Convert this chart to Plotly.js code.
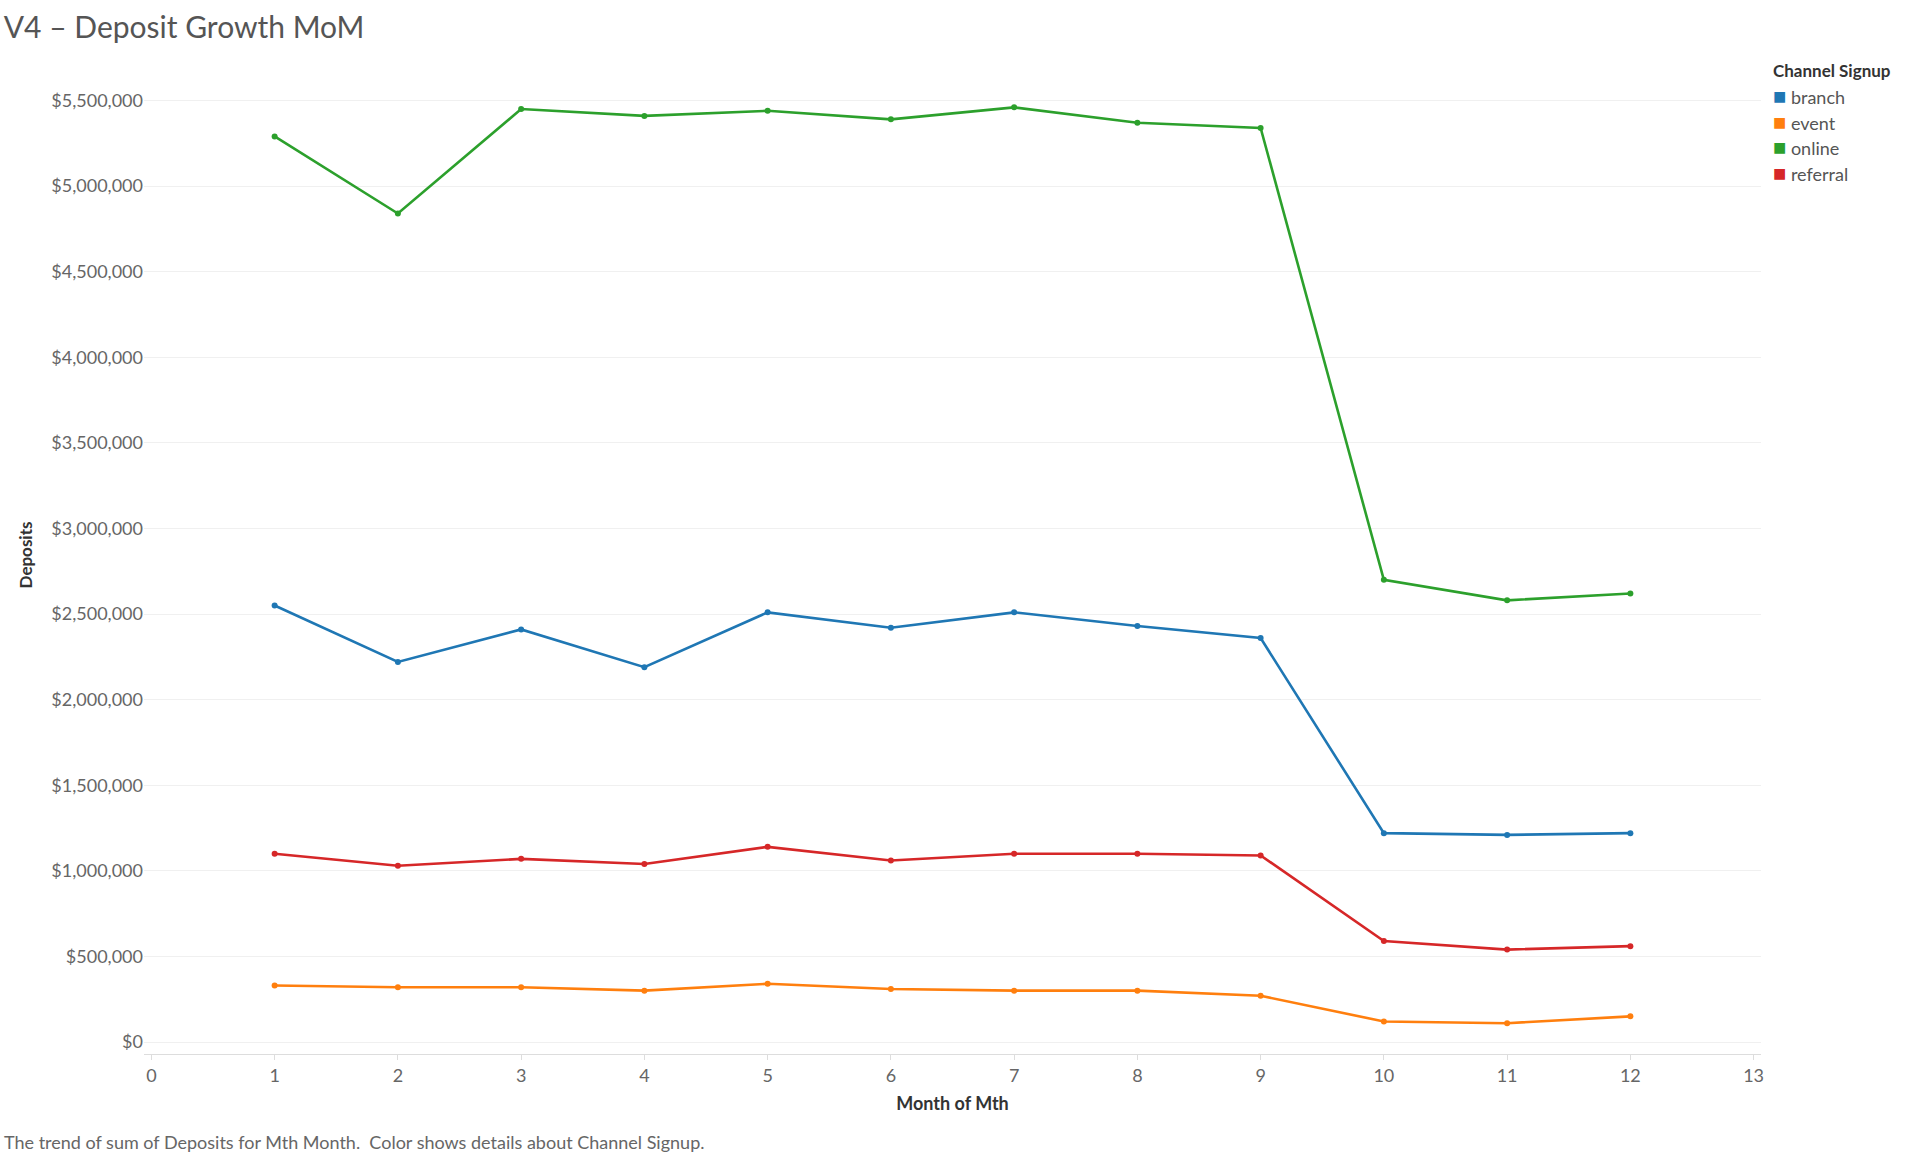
<!DOCTYPE html>
<html>
<head>
<meta charset="utf-8">
<script src="https://cdn.plot.ly/plotly-3.0.1.min.js"></script>
<style>html,body{margin:0;padding:0;background:#fff;}#chart{width:1911px;height:1158px;}</style>
</head>
<body>
<div id="chart"></div>
<script>
const months = [1, 2, 3, 4, 5, 6, 7, 8, 9, 10, 11, 12];
const channels = ['branch', 'event', 'online', 'referral'];
const colors = ['#1f77b4', '#ff7f0e', '#2ca02c', '#d62728'];
const branch = [2550000, 2220000, 2410000, 2190000, 2510000, 2420000, 2510000, 2430000, 2360000, 1220000, 1210000, 1220000];
const eventS = [330000, 320000, 320000, 300000, 340000, 310000, 300000, 300000, 270000, 120000, 110000, 150000];
const online = [5290000, 4840000, 5450000, 5410000, 5440000, 5390000, 5460000, 5370000, 5340000, 2700000, 2580000, 2620000];
const referral = [1100000, 1030000, 1070000, 1040000, 1140000, 1060000, 1100000, 1100000, 1090000, 590000, 540000, 560000];
const series = [branch, eventS, online, referral];
const yTicks = [0, 500000, 1000000, 1500000, 2000000, 2500000, 3000000, 3500000, 4000000, 4500000, 5000000, 5500000];

const font = 'Lato, "Open Sans", sans-serif';

const traces = series.map((vals, i) => ({
  type: 'scatter',
  mode: 'lines+markers',
  x: months,
  y: vals,
  name: channels[i],
  line: { color: colors[i], width: 2.6 },
  marker: { color: colors[i], size: 6 },
  showlegend: false
}));

// custom legend with square swatches
const annotations = [{
  xref: 'paper', yref: 'paper', x: 1.006, y: 0.973, xanchor: 'left', yanchor: 'bottom',
  text: '<b>Channel Signup</b>', showarrow: false, font: { family: font, size: 17, color: '#333' }
}];
channels.forEach((c, i) => {
  annotations.push({
    xref: 'paper', yref: 'paper', x: 1.006, y: 0.96 - i * 0.0255, xanchor: 'left', yanchor: 'middle',
    text: '<span style="color:' + colors[i] + ';font-size:22px">■</span> ' + c, showarrow: false,
    font: { family: font, size: 18, color: '#555' }
  });
});
annotations.push({
  xref: 'paper', yref: 'paper', x: -0.088, y: -0.075, xanchor: 'left', yanchor: 'top',
  text: 'The trend of sum of Deposits for Mth Month.  Color shows details about Channel Signup.',
  showarrow: false, font: { family: font, size: 18, color: '#666' }
});

const layout = {
  width: 1911, height: 1158,
  paper_bgcolor: '#fff', plot_bgcolor: '#fff',
  margin: { l: 144, r: 150, t: 56, b: 104 },
  title: { text: 'V4 – Deposit Growth MoM', x: 0.002, xanchor: 'left', y: 0.985, font: { family: font, size: 30, color: '#555' } },
  xaxis: {
    range: [-0.06, 13.06], tickvals: [0,1,2,3,4,5,6,7,8,9,10,11,12,13],
    showgrid: false, zeroline: false, showline: true, linecolor: '#ddd',
    ticks: 'outside', tickcolor: '#ddd', ticklen: 5,
    tickfont: { family: font, size: 18, color: '#666' },
    title: { text: '<b>Month of Mth</b>', font: { family: font, size: 18, color: '#333' }, standoff: 12 }
  },
  yaxis: {
    range: [-70000, 5760000], tickvals: yTicks,
    ticktext: yTicks.map(v => '$' + v.toLocaleString('en-US')),
    showgrid: true, gridcolor: '#f0f0f0', zeroline: false, showline: false,
    tickfont: { family: font, size: 18, color: '#666' },
    title: { text: '<b>Deposits</b>', font: { family: font, size: 17, color: '#333' }, standoff: 14 }
  },
  annotations: annotations
};

Plotly.newPlot('chart', traces, layout, { displayModeBar: false });
</script>
</body>
</html>
